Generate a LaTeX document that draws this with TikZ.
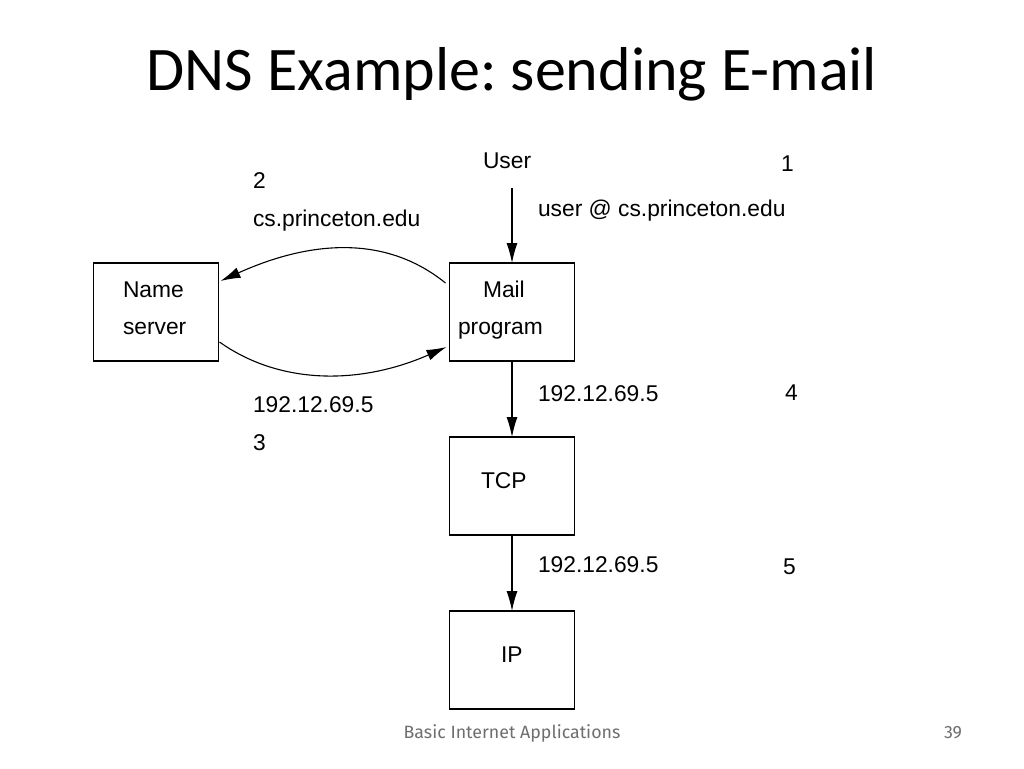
\documentclass[tikz,border=0pt]{standalone}
\usepackage{fontspec}
\setmainfont{Liberation Sans}
\newfontfamily\titlefont{Carlito}
\newfontfamily\footfont{Fira Sans}
\usetikzlibrary{arrows.meta}
\definecolor{footgray}{RGB}{110,110,110}
\frenchspacing
\begin{document}
\begin{tikzpicture}
  [x=1pt,y=-1pt,line width=1.1pt,
   every node/.style={inner sep=0pt,outer sep=0pt},
   lbl/.style={anchor=base west,font=\fontsize{22.8}{27}\selectfont},
   box/.style={draw,minimum width=125pt,minimum height=98pt},
   arr/.style={-{Latex[length=20pt,width=11pt]}}]
  \useasboundingbox (0,0) rectangle (1024,768);
  \node (title) at (512,90) [anchor=base,font=\titlefont\fontsize{62}{70}\selectfont] {DNS Example: sending E-mail};

  \node (ns)   at (156,312) [box] {};
  \node (mail) at (512,312) [box] {};
  \node (tcp)  at (512,486) [box] {};
  \node (ip)   at (512,660) [box] {};

  \node (name)  at (123,297) [lbl] {Name};
  \node (serv)  at (123,334) [lbl] {server};
  \node (mail1) at (483,297) [lbl] {Mail};
  \node (mail2) at (458,334) [lbl] {program};
  \node (tcpt)  at (481,488) [lbl] {TCP};
  \node (ipt)   at (501,662) [lbl] {IP};

  \node (user)  at (483,168) [lbl] {User};
  \node (s1)    at (781,171) [lbl] {1};
  \node (addr)  at (538,216) [lbl] {user @ cs.princeton.edu};
  \node (s2)    at (253,188) [lbl] {2};
  \node (host)  at (253,226) [lbl] {cs.princeton.edu};
  \node (ipa)   at (253,412) [lbl] {192.12.69.5};
  \node (s3)    at (253,450) [lbl] {3};
  \node (ipb)   at (538,401) [lbl] {192.12.69.5};
  \node (s4)    at (785,400) [lbl] {4};
  \node (ipc)   at (538,572) [lbl] {192.12.69.5};
  \node (s5)    at (783,574) [lbl] {5};

  \node (foot) at (512,738) [anchor=base,text=footgray,font=\footfont\fontsize{17.8}{20}\selectfont] {Basic Internet Applications};
  \node (page) at (953,738) [anchor=base,text=footgray,font=\footfont\fontsize{17.8}{20}\selectfont] {39};

  \coordinate (usr) at (512,188);
  \draw[arr] (usr) -- (mail.north);
  \foreach \from/\to in {mail/tcp,tcp/ip}
    \draw[arr] (\from.south) -- (\to.north);

  \draw[arr] ([xshift=-4pt,yshift=-20pt]mail.north west) .. controls (380,230) and (300,245) .. ([xshift=2pt,yshift=-18pt]ns.north east);
  \draw[arr] ([xshift=1pt,yshift=19pt]ns.south east) .. controls (280,385) and (360,385) .. ([xshift=-3pt,yshift=14pt]mail.south west);
\end{tikzpicture}
\end{document}
